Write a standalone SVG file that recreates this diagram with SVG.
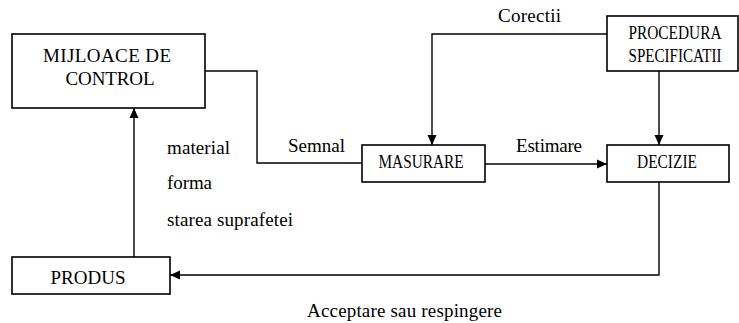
<svg xmlns="http://www.w3.org/2000/svg" width="739" height="323" viewBox="0 0 739 323">
  <style>
    .box { fill: #ffffff; stroke: #000000; stroke-width: 1.6; }
    .line { fill: none; stroke: #000000; stroke-width: 1.4; }
    text { font-family: "Liberation Serif", "Times New Roman", serif; fill: #000000; }
    .t19 { font-size: 19px; }
    .t17 { font-size: 18px; }
    .mid { text-anchor: middle; }
  </style>
  <defs>
    <marker id="arrow" viewBox="0 0 10 10" refX="10" refY="5" markerWidth="10" markerHeight="10" markerUnits="userSpaceOnUse" orient="auto">
      <path d="M0,0.5 L10,5 L0,9.5 Z" fill="#000000"/>
    </marker>
  </defs>
  <rect width="739" height="323" fill="#ffffff"/>

  <g id="connectors">
    <!-- MIJLOACE DE CONTROL -> MASURARE (Semnal) -->
    <polyline class="line" points="205,71 257,71 257,163 362,163"/>
    <!-- PROCEDURA -> MASURARE (Corectii) -->
    <polyline class="line" points="607,34 432,34 432,145" marker-end="url(#arrow)"/>
    <!-- PROCEDURA -> DECIZIE -->
    <line class="line" x1="659" y1="71" x2="659" y2="145" marker-end="url(#arrow)"/>
    <!-- MASURARE -> DECIZIE (Estimare) -->
    <line class="line" x1="485" y1="164" x2="607" y2="164" marker-end="url(#arrow)"/>
    <!-- DECIZIE -> PRODUS (Acceptare sau respingere) -->
    <polyline class="line" points="659,182 659,275 170,275" marker-end="url(#arrow)"/>
    <!-- PRODUS -> MIJLOACE DE CONTROL -->
    <line class="line" x1="134" y1="257" x2="134" y2="108" marker-end="url(#arrow)"/>
  </g>

  <g id="labels">
    <text class="t19" x="498" y="22" textLength="63">Corectii</text>
    <text class="t19" x="288" y="152" textLength="57">Semnal</text>
    <text class="t19" x="516" y="152" textLength="66">Estimare</text>
    <text class="t19" x="167" y="154" textLength="63">material</text>
    <text class="t19" x="167" y="189" textLength="45">forma</text>
    <text class="t19" x="167" y="226" textLength="126">starea suprafetei</text>
    <text class="t19" x="307" y="317" textLength="195">Acceptare sau respingere</text>
  </g>

  <g id="mijloace-de-control">
    <rect class="box" x="12" y="34" width="193" height="74"/>
    <text class="t19 mid" x="107" y="62" textLength="128">MIJLOACE DE</text>
    <text class="t19 mid" x="110" y="85" textLength="89">CONTROL</text>
  </g>

  <g id="procedura-specificatii">
    <rect class="box" x="607" y="16" width="131" height="55"/>
    <text class="t17 mid" x="675" y="39" textLength="93" lengthAdjust="spacingAndGlyphs">PROCEDURA</text>
    <text class="t17 mid" x="675" y="62" textLength="93" lengthAdjust="spacingAndGlyphs">SPECIFICATII</text>
  </g>

  <g id="masurare">
    <rect class="box" x="362" y="145" width="123" height="37"/>
    <text class="t17 mid" x="421" y="168" textLength="85" lengthAdjust="spacingAndGlyphs">MASURARE</text>
  </g>

  <g id="decizie">
    <rect class="box" x="607" y="145" width="122" height="37"/>
    <text class="t17 mid" x="667" y="168" textLength="60" lengthAdjust="spacingAndGlyphs">DECIZIE</text>
  </g>

  <g id="produs">
    <rect class="box" x="12" y="257" width="158" height="37"/>
    <text class="t19 mid" x="88" y="284" textLength="75">PRODUS</text>
  </g>
</svg>
